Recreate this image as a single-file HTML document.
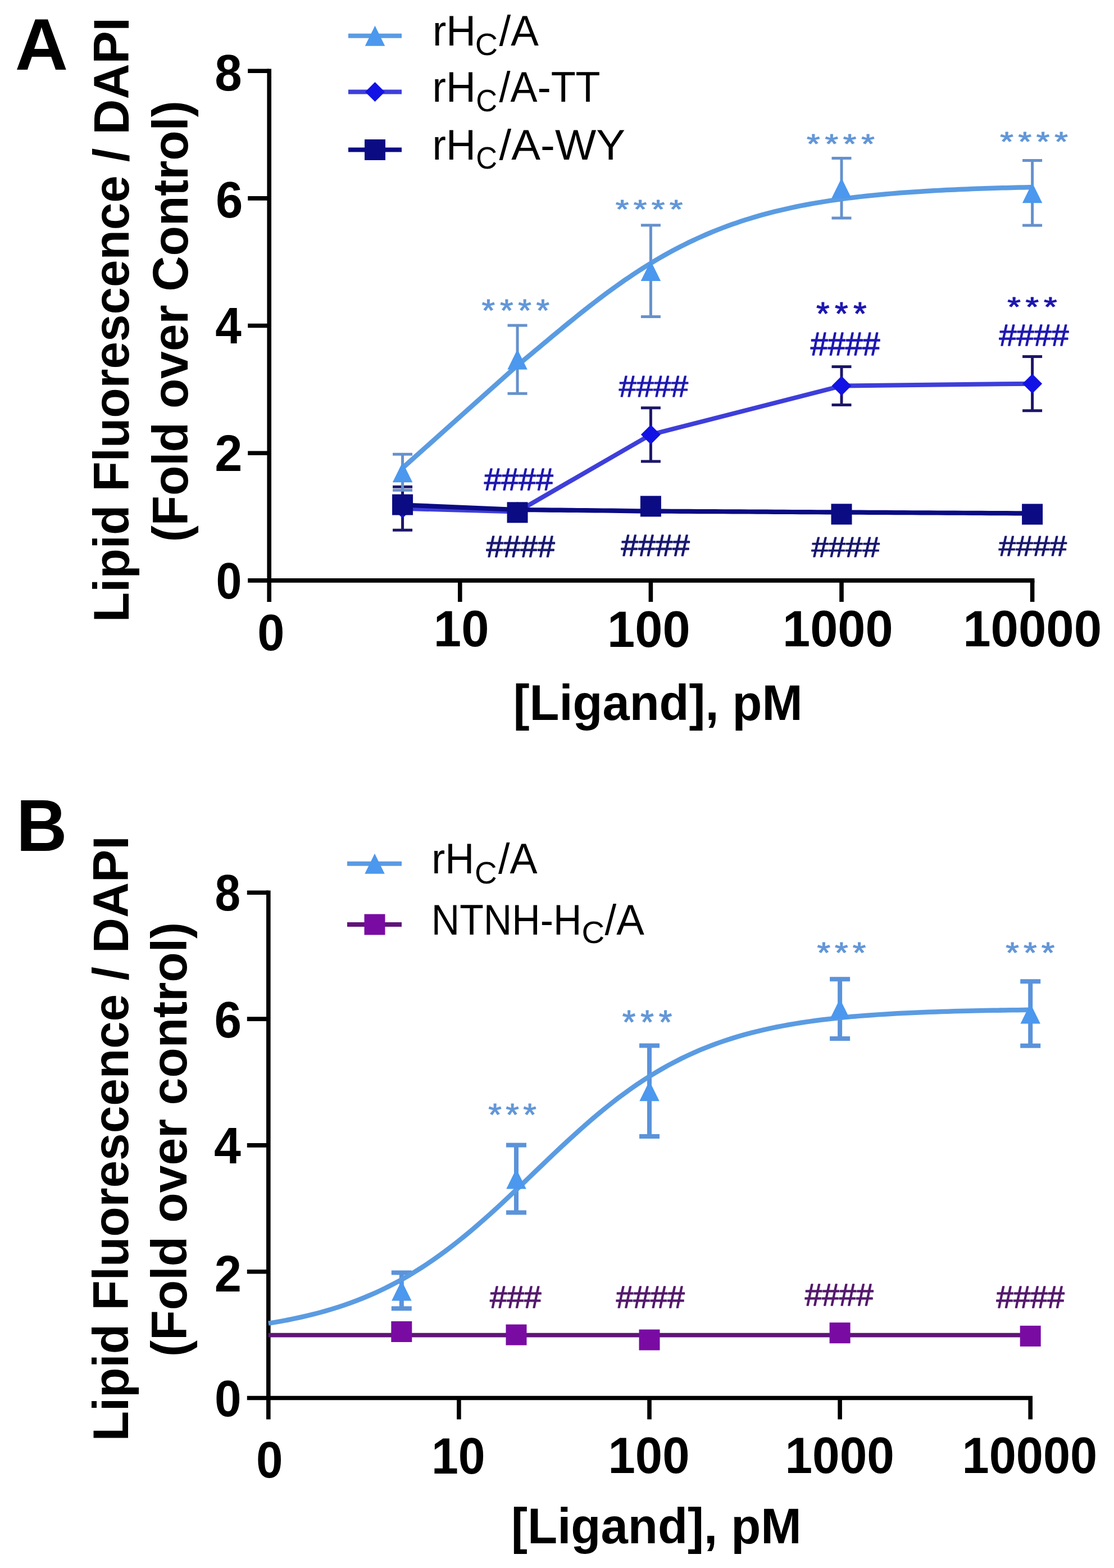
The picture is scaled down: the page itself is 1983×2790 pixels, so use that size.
<!DOCTYPE html><html><head><meta charset="utf-8"><title>Lipid Fluorescence</title><style>html,body{margin:0;padding:0;background:#fff;}svg{display:block;}text{font-family:"Liberation Sans",Arial,sans-serif;}</style></head><body>
<svg width="1983" height="2790" viewBox="0 0 1983 2790">
<rect width="1983" height="2790" fill="#fff"/>
<line x1="479.2" y1="122.38" x2="479.2" y2="1070.9" stroke="#000" stroke-width="7.6" stroke-linecap="butt"/>
<line x1="441.2" y1="1032.9" x2="1841.4" y2="1032.9" stroke="#000" stroke-width="7.6" stroke-linecap="butt"/>
<line x1="441.2" y1="806.22" x2="479.2" y2="806.22" stroke="#000" stroke-width="7.6" stroke-linecap="butt"/>
<line x1="441.2" y1="579.54" x2="479.2" y2="579.54" stroke="#000" stroke-width="7.6" stroke-linecap="butt"/>
<line x1="441.2" y1="352.86" x2="479.2" y2="352.86" stroke="#000" stroke-width="7.6" stroke-linecap="butt"/>
<line x1="441.2" y1="126.18" x2="479.2" y2="126.18" stroke="#000" stroke-width="7.6" stroke-linecap="butt"/>
<line x1="818.8" y1="1032.9" x2="818.8" y2="1070.9" stroke="#000" stroke-width="7.6" stroke-linecap="butt"/>
<line x1="1158.4" y1="1032.9" x2="1158.4" y2="1070.9" stroke="#000" stroke-width="7.6" stroke-linecap="butt"/>
<line x1="1498" y1="1032.9" x2="1498" y2="1070.9" stroke="#000" stroke-width="7.6" stroke-linecap="butt"/>
<line x1="1837.6" y1="1032.9" x2="1837.6" y2="1070.9" stroke="#000" stroke-width="7.6" stroke-linecap="butt"/>
<text transform="translate(382.24 160.5) scale(0.9678 1)" font-size="90" font-weight="bold" fill="#000">8</text>
<text transform="translate(384.02 387.2) scale(0.9654 1)" font-size="90" font-weight="bold" fill="#000">6</text>
<text transform="translate(383.13 611.1) scale(0.9293 1)" font-size="90" font-weight="bold" fill="#000">4</text>
<text transform="translate(382.13 837.9) scale(0.9832 1)" font-size="90" font-weight="bold" fill="#000">2</text>
<text transform="translate(384.53 1065.4) scale(0.9182 1)" font-size="90" font-weight="bold" fill="#000">0</text>
<text transform="translate(458.27 1156.8) scale(0.9626 1)" font-size="90" font-weight="bold" fill="#000">0</text>
<text transform="translate(771.82 1150.3) scale(0.9852 1)" font-size="90" font-weight="bold" fill="#000">10</text>
<text transform="translate(1081.03 1150.5) scale(0.9829 1)" font-size="90" font-weight="bold" fill="#000">100</text>
<text transform="translate(1393.03 1150) scale(0.9819 1)" font-size="90" font-weight="bold" fill="#000">1000</text>
<text transform="translate(1714.21 1150) scale(0.9863 1)" font-size="90" font-weight="bold" fill="#000">10000</text>
<text transform="translate(913.73 1280.7) scale(0.9736 1)" font-size="89" font-weight="bold" fill="#000">[Ligand], pM</text>
<text transform="translate(229.4 1107.03) rotate(-90) scale(0.9799 1)" font-size="89" font-weight="bold" fill="#000">Lipid Fluorescence / DAPI</text>
<text transform="translate(333.6 964.35) rotate(-90) scale(0.9804 1)" font-size="89" font-weight="bold" fill="#000">(Fold over Control)</text>
<text transform="translate(26.74 124.4) scale(1.0055 1)" font-size="130" font-weight="bold" fill="#000">A</text>
<line x1="477.8" y1="1584.5" x2="477.8" y2="2525.5" stroke="#000" stroke-width="7.6" stroke-linecap="butt"/>
<line x1="439.8" y1="2487.5" x2="1838" y2="2487.5" stroke="#000" stroke-width="7.6" stroke-linecap="butt"/>
<line x1="439.8" y1="2262.7" x2="477.8" y2="2262.7" stroke="#000" stroke-width="7.6" stroke-linecap="butt"/>
<line x1="439.8" y1="2037.9" x2="477.8" y2="2037.9" stroke="#000" stroke-width="7.6" stroke-linecap="butt"/>
<line x1="439.8" y1="1813.1" x2="477.8" y2="1813.1" stroke="#000" stroke-width="7.6" stroke-linecap="butt"/>
<line x1="439.8" y1="1588.3" x2="477.8" y2="1588.3" stroke="#000" stroke-width="7.6" stroke-linecap="butt"/>
<line x1="816.9" y1="2487.5" x2="816.9" y2="2525.5" stroke="#000" stroke-width="7.6" stroke-linecap="butt"/>
<line x1="1156" y1="2487.5" x2="1156" y2="2525.5" stroke="#000" stroke-width="7.6" stroke-linecap="butt"/>
<line x1="1495.1" y1="2487.5" x2="1495.1" y2="2525.5" stroke="#000" stroke-width="7.6" stroke-linecap="butt"/>
<line x1="1834.2" y1="2487.5" x2="1834.2" y2="2525.5" stroke="#000" stroke-width="7.6" stroke-linecap="butt"/>
<text transform="translate(382.4 1620.4) scale(0.9093 1)" font-size="90" font-weight="bold" fill="#000">8</text>
<text transform="translate(381.5 1845.8) scale(0.9700 1)" font-size="90" font-weight="bold" fill="#000">6</text>
<text transform="translate(381 2069.8) scale(0.9563 1)" font-size="90" font-weight="bold" fill="#000">4</text>
<text transform="translate(381.7 2297.9) scale(0.9624 1)" font-size="90" font-weight="bold" fill="#000">2</text>
<text transform="translate(382.12 2519.9) scale(0.9509 1)" font-size="90" font-weight="bold" fill="#000">0</text>
<text transform="translate(456.02 2628.9) scale(0.9485 1)" font-size="90" font-weight="bold" fill="#000">0</text>
<text transform="translate(767.98 2621.5) scale(0.9565 1)" font-size="90" font-weight="bold" fill="#000">10</text>
<text transform="translate(1082.52 2620.5) scale(0.9659 1)" font-size="90" font-weight="bold" fill="#000">100</text>
<text transform="translate(1397.49 2620.5) scale(0.9714 1)" font-size="90" font-weight="bold" fill="#000">1000</text>
<text transform="translate(1712.55 2620.5) scale(0.9618 1)" font-size="90" font-weight="bold" fill="#000">10000</text>
<text transform="translate(910.12 2745.7) scale(0.9769 1)" font-size="89" font-weight="bold" fill="#000">[Ligand], pM</text>
<text transform="translate(227.5 2564.34) rotate(-90) scale(0.9810 1)" font-size="89" font-weight="bold" fill="#000">Lipid Fluorescence / DAPI</text>
<text transform="translate(332 2413.96) rotate(-90) scale(0.9837 1)" font-size="89" font-weight="bold" fill="#000">(Fold over control)</text>
<text transform="translate(29.02 1513.8) scale(0.9636 1)" font-size="130" font-weight="bold" fill="#000">B</text>
<line x1="716.57" y1="886.69" x2="716.57" y2="909.36" stroke="#0B0B84" stroke-width="5" stroke-linecap="butt"/>
<line x1="699.07" y1="886.69" x2="734.07" y2="886.69" stroke="#0B0B84" stroke-width="5" stroke-linecap="butt"/>
<line x1="699.07" y1="909.36" x2="734.07" y2="909.36" stroke="#0B0B84" stroke-width="5" stroke-linecap="butt"/>
<line x1="716.57" y1="866.29" x2="716.57" y2="943.36" stroke="#1C1668" stroke-width="5" stroke-linecap="butt"/>
<line x1="699.07" y1="866.29" x2="734.07" y2="866.29" stroke="#1C1668" stroke-width="5" stroke-linecap="butt"/>
<line x1="699.07" y1="943.36" x2="734.07" y2="943.36" stroke="#1C1668" stroke-width="5" stroke-linecap="butt"/>
<line x1="716.57" y1="808.15" x2="716.57" y2="872.3" stroke="#6691CC" stroke-width="5" stroke-linecap="butt"/>
<line x1="699.07" y1="808.15" x2="734.07" y2="808.15" stroke="#6691CC" stroke-width="5" stroke-linecap="butt"/>
<line x1="699.07" y1="872.3" x2="734.07" y2="872.3" stroke="#6691CC" stroke-width="5" stroke-linecap="butt"/>
<line x1="921.03" y1="902.79" x2="921.03" y2="920.92" stroke="#0B0B84" stroke-width="5" stroke-linecap="butt"/>
<line x1="903.53" y1="902.79" x2="938.53" y2="902.79" stroke="#0B0B84" stroke-width="5" stroke-linecap="butt"/>
<line x1="903.53" y1="920.92" x2="938.53" y2="920.92" stroke="#0B0B84" stroke-width="5" stroke-linecap="butt"/>
<line x1="921.03" y1="899.16" x2="921.03" y2="921.83" stroke="#1C1668" stroke-width="5" stroke-linecap="butt"/>
<line x1="903.53" y1="899.16" x2="938.53" y2="899.16" stroke="#1C1668" stroke-width="5" stroke-linecap="butt"/>
<line x1="903.53" y1="921.83" x2="938.53" y2="921.83" stroke="#1C1668" stroke-width="5" stroke-linecap="butt"/>
<line x1="921.03" y1="579.09" x2="921.03" y2="700.13" stroke="#6691CC" stroke-width="5" stroke-linecap="butt"/>
<line x1="903.53" y1="579.09" x2="938.53" y2="579.09" stroke="#6691CC" stroke-width="5" stroke-linecap="butt"/>
<line x1="903.53" y1="700.13" x2="938.53" y2="700.13" stroke="#6691CC" stroke-width="5" stroke-linecap="butt"/>
<line x1="1158.4" y1="894.06" x2="1158.4" y2="907.66" stroke="#0B0B84" stroke-width="5" stroke-linecap="butt"/>
<line x1="1140.9" y1="894.06" x2="1175.9" y2="894.06" stroke="#0B0B84" stroke-width="5" stroke-linecap="butt"/>
<line x1="1140.9" y1="907.66" x2="1175.9" y2="907.66" stroke="#0B0B84" stroke-width="5" stroke-linecap="butt"/>
<line x1="1158.4" y1="725.75" x2="1158.4" y2="820.95" stroke="#1C1668" stroke-width="5" stroke-linecap="butt"/>
<line x1="1140.9" y1="725.75" x2="1175.9" y2="725.75" stroke="#1C1668" stroke-width="5" stroke-linecap="butt"/>
<line x1="1140.9" y1="820.95" x2="1175.9" y2="820.95" stroke="#1C1668" stroke-width="5" stroke-linecap="butt"/>
<line x1="1158.4" y1="400.69" x2="1158.4" y2="563.45" stroke="#6691CC" stroke-width="5" stroke-linecap="butt"/>
<line x1="1140.9" y1="400.69" x2="1175.9" y2="400.69" stroke="#6691CC" stroke-width="5" stroke-linecap="butt"/>
<line x1="1140.9" y1="563.45" x2="1175.9" y2="563.45" stroke="#6691CC" stroke-width="5" stroke-linecap="butt"/>
<line x1="1498" y1="909.25" x2="1498" y2="920.58" stroke="#0B0B84" stroke-width="5" stroke-linecap="butt"/>
<line x1="1480.5" y1="909.25" x2="1515.5" y2="909.25" stroke="#0B0B84" stroke-width="5" stroke-linecap="butt"/>
<line x1="1480.5" y1="920.58" x2="1515.5" y2="920.58" stroke="#0B0B84" stroke-width="5" stroke-linecap="butt"/>
<line x1="1498" y1="652.53" x2="1498" y2="720.53" stroke="#1C1668" stroke-width="5" stroke-linecap="butt"/>
<line x1="1480.5" y1="652.53" x2="1515.5" y2="652.53" stroke="#1C1668" stroke-width="5" stroke-linecap="butt"/>
<line x1="1480.5" y1="720.53" x2="1515.5" y2="720.53" stroke="#1C1668" stroke-width="5" stroke-linecap="butt"/>
<line x1="1498" y1="281.46" x2="1498" y2="388" stroke="#6691CC" stroke-width="5" stroke-linecap="butt"/>
<line x1="1480.5" y1="281.46" x2="1515.5" y2="281.46" stroke="#6691CC" stroke-width="5" stroke-linecap="butt"/>
<line x1="1480.5" y1="388" x2="1515.5" y2="388" stroke="#6691CC" stroke-width="5" stroke-linecap="butt"/>
<line x1="1837.6" y1="909.36" x2="1837.6" y2="920.69" stroke="#0B0B84" stroke-width="5" stroke-linecap="butt"/>
<line x1="1820.1" y1="909.36" x2="1855.1" y2="909.36" stroke="#0B0B84" stroke-width="5" stroke-linecap="butt"/>
<line x1="1820.1" y1="920.69" x2="1855.1" y2="920.69" stroke="#0B0B84" stroke-width="5" stroke-linecap="butt"/>
<line x1="1837.6" y1="634.62" x2="1837.6" y2="730.74" stroke="#1C1668" stroke-width="5" stroke-linecap="butt"/>
<line x1="1820.1" y1="634.62" x2="1855.1" y2="634.62" stroke="#1C1668" stroke-width="5" stroke-linecap="butt"/>
<line x1="1820.1" y1="730.74" x2="1855.1" y2="730.74" stroke="#1C1668" stroke-width="5" stroke-linecap="butt"/>
<line x1="1837.6" y1="285.42" x2="1837.6" y2="401.03" stroke="#6691CC" stroke-width="5" stroke-linecap="butt"/>
<line x1="1820.1" y1="285.42" x2="1855.1" y2="285.42" stroke="#6691CC" stroke-width="5" stroke-linecap="butt"/>
<line x1="1820.1" y1="401.03" x2="1855.1" y2="401.03" stroke="#6691CC" stroke-width="5" stroke-linecap="butt"/>
<polyline points="716.57,904.83 921.03,910.49 1158.4,773.35 1498,686.53 1837.6,682.68" fill="none" stroke="#3E3EDA" stroke-width="8" stroke-linejoin="round"/>
<polyline points="716.57,898.5 921.02,907 936.3,907.13 951.57,907.26 966.85,907.39 982.12,907.53 997.4,907.68 1012.68,907.82 1027.95,907.98 1043.23,908.14 1058.51,908.33 1073.78,908.52 1089.06,908.72 1104.34,908.92 1119.61,909.11 1134.89,909.28 1150.16,909.43 1165.44,909.55 1180.72,909.67 1195.99,909.77 1211.27,909.86 1226.55,909.95 1241.82,910.03 1257.1,910.11 1272.38,910.19 1287.65,910.27 1302.93,910.35 1318.2,910.43 1333.48,910.52 1348.76,910.61 1364.03,910.7 1379.31,910.79 1394.59,910.88 1409.86,910.98 1425.14,911.07 1440.42,911.16 1455.69,911.25 1470.97,911.34 1486.24,911.43 1501.52,911.52 1516.8,911.61 1532.07,911.7 1547.35,911.79 1562.63,911.88 1577.9,911.97 1593.18,912.05 1608.45,912.14 1623.73,912.23 1639.01,912.32 1654.28,912.41 1669.56,912.5 1684.84,912.59 1700.11,912.68 1715.39,912.77 1730.67,912.86 1745.94,912.95 1761.22,913.04 1776.49,913.13 1791.77,913.22 1807.05,913.32 1822.32,913.41 1837.6,913.5" fill="none" stroke="#0B0B84" stroke-width="8.2" stroke-linejoin="round"/>
<polyline points="716.57,832.74 921.03,650.19 928.67,643.87 936.31,637.53 943.94,631.17 951.58,624.8 959.22,618.42 966.86,612.04 974.5,605.67 982.13,599.31 989.77,592.98 997.41,586.66 1005.05,580.38 1012.69,574.13 1020.32,567.93 1027.96,561.78 1035.6,555.68 1043.24,549.63 1050.88,543.65 1058.52,537.74 1066.15,531.9 1073.79,526.14 1081.43,520.46 1089.07,514.86 1096.71,509.35 1104.34,503.94 1111.98,498.61 1119.62,493.39 1127.26,488.26 1134.9,483.23 1142.53,478.31 1150.17,473.49 1157.81,468.77 1165.45,464.16 1173.09,459.66 1180.72,455.27 1188.36,450.99 1196,446.81 1203.64,442.74 1211.28,438.78 1218.92,434.93 1226.55,431.18 1234.19,427.54 1241.83,424 1249.47,420.57 1257.11,417.24 1264.74,414 1272.38,410.87 1280.02,407.84 1287.66,404.9 1295.3,402.06 1302.93,399.3 1310.57,396.64 1318.21,394.07 1325.85,391.58 1333.49,389.18 1341.12,386.86 1348.76,384.63 1356.4,382.46 1364.04,380.38 1371.68,378.37 1379.31,376.43 1386.95,374.57 1394.59,372.77 1402.23,371.04 1409.87,369.37 1417.51,367.76 1425.14,366.21 1432.78,364.73 1440.42,363.3 1448.06,361.92 1455.7,360.59 1463.33,359.32 1470.97,358.1 1478.61,356.92 1486.25,355.79 1493.89,354.71 1501.52,353.66 1509.16,352.66 1516.8,351.7 1524.44,350.78 1532.08,349.89 1539.71,349.04 1547.35,348.22 1554.99,347.44 1562.63,346.69 1570.27,345.97 1577.91,345.27 1585.54,344.61 1593.18,343.97 1600.82,343.36 1608.46,342.78 1616.1,342.21 1623.73,341.68 1631.37,341.16 1639.01,340.67 1646.65,340.19 1654.29,339.74 1661.92,339.3 1669.56,338.88 1677.2,338.48 1684.84,338.1 1692.48,337.73 1700.11,337.38 1707.75,337.04 1715.39,336.72 1723.03,336.41 1730.67,336.12 1738.3,335.83 1745.94,335.56 1753.58,335.3 1761.22,335.05 1768.86,334.81 1776.5,334.58 1784.13,334.36 1791.77,334.15 1799.41,333.95 1807.05,333.76 1814.69,333.58 1822.32,333.4 1829.96,333.23 1837.6,333.07" fill="none" stroke="#5A9BE2" stroke-width="8.5" stroke-linejoin="round"/>
<polygon points="716.57,887.33 734.07,904.83 716.57,922.33 699.07,904.83" fill="#1212E4"/>
<rect x="698.07" y="879.53" width="37" height="37" fill="#0B0B84"/>
<polygon points="716.57,822.22 734.32,858.22 698.82,858.22" fill="#4B98EE"/>
<polygon points="921.03,892.99 938.53,910.49 921.03,927.99 903.53,910.49" fill="#1212E4"/>
<rect x="902.53" y="893.35" width="37" height="37" fill="#0B0B84"/>
<polygon points="921.03,621.61 938.78,657.61 903.28,657.61" fill="#4B98EE"/>
<polygon points="1158.4,755.85 1175.9,773.35 1158.4,790.85 1140.9,773.35" fill="#1212E4"/>
<rect x="1139.9" y="882.36" width="37" height="37" fill="#0B0B84"/>
<polygon points="1158.4,464.07 1176.15,500.07 1140.65,500.07" fill="#4B98EE"/>
<polygon points="1498,669.03 1515.5,686.53 1498,704.03 1480.5,686.53" fill="#1212E4"/>
<rect x="1479.5" y="896.41" width="37" height="37" fill="#0B0B84"/>
<polygon points="1498,316.73 1515.75,352.73 1480.25,352.73" fill="#4B98EE"/>
<polygon points="1837.6,665.18 1855.1,682.68 1837.6,700.18 1820.1,682.68" fill="#1212E4"/>
<rect x="1819.1" y="896.53" width="37" height="37" fill="#0B0B84"/>
<polygon points="1837.6,325.23 1855.35,361.23 1819.85,361.23" fill="#4B98EE"/>
<text transform="translate(858.55 571.17) scale(1.0987 1)" x="-0.89" font-size="55.26" fill="#6397D8" stroke="#6397D8" stroke-width="1.1" stroke-linejoin="round">*</text>
<text transform="translate(890.85 571.17) scale(1.0987 1)" x="-0.89" font-size="55.26" fill="#6397D8" stroke="#6397D8" stroke-width="1.1" stroke-linejoin="round">*</text>
<text transform="translate(923.15 571.17) scale(1.0987 1)" x="-0.89" font-size="55.26" fill="#6397D8" stroke="#6397D8" stroke-width="1.1" stroke-linejoin="round">*</text>
<text transform="translate(955.45 571.17) scale(1.0987 1)" x="-0.89" font-size="55.26" fill="#6397D8" stroke="#6397D8" stroke-width="1.1" stroke-linejoin="round">*</text>
<text transform="translate(1096.75 388.09) scale(1.3076 1)" x="-0.75" font-size="46.43" fill="#6397D8" stroke="#6397D8" stroke-width="1.1" stroke-linejoin="round">*</text>
<text transform="translate(1128.75 388.09) scale(1.3076 1)" x="-0.75" font-size="46.43" fill="#6397D8" stroke="#6397D8" stroke-width="1.1" stroke-linejoin="round">*</text>
<text transform="translate(1160.75 388.09) scale(1.3076 1)" x="-0.75" font-size="46.43" fill="#6397D8" stroke="#6397D8" stroke-width="1.1" stroke-linejoin="round">*</text>
<text transform="translate(1192.75 388.09) scale(1.3076 1)" x="-0.75" font-size="46.43" fill="#6397D8" stroke="#6397D8" stroke-width="1.1" stroke-linejoin="round">*</text>
<text transform="translate(1436.95 271.66) scale(1.2392 1)" x="-0.79" font-size="48.99" fill="#6397D8" stroke="#6397D8" stroke-width="1.1" stroke-linejoin="round">*</text>
<text transform="translate(1469.35 271.66) scale(1.2392 1)" x="-0.79" font-size="48.99" fill="#6397D8" stroke="#6397D8" stroke-width="1.1" stroke-linejoin="round">*</text>
<text transform="translate(1501.75 271.66) scale(1.2392 1)" x="-0.79" font-size="48.99" fill="#6397D8" stroke="#6397D8" stroke-width="1.1" stroke-linejoin="round">*</text>
<text transform="translate(1534.15 271.66) scale(1.2392 1)" x="-0.79" font-size="48.99" fill="#6397D8" stroke="#6397D8" stroke-width="1.1" stroke-linejoin="round">*</text>
<text transform="translate(1781.15 267.68) scale(1.2763 1)" x="-0.77" font-size="47.57" fill="#6397D8" stroke="#6397D8" stroke-width="1.1" stroke-linejoin="round">*</text>
<text transform="translate(1813.48 267.68) scale(1.2763 1)" x="-0.77" font-size="47.57" fill="#6397D8" stroke="#6397D8" stroke-width="1.1" stroke-linejoin="round">*</text>
<text transform="translate(1845.82 267.68) scale(1.2763 1)" x="-0.77" font-size="47.57" fill="#6397D8" stroke="#6397D8" stroke-width="1.1" stroke-linejoin="round">*</text>
<text transform="translate(1878.15 267.68) scale(1.2763 1)" x="-0.77" font-size="47.57" fill="#6397D8" stroke="#6397D8" stroke-width="1.1" stroke-linejoin="round">*</text>
<text transform="translate(1453.95 578.14) scale(1.0604 1)" x="-0.92" font-size="57.25" fill="#1D17B0" stroke="#1D17B0" stroke-width="1.1" stroke-linejoin="round">*</text>
<text transform="translate(1487 578.14) scale(1.0604 1)" x="-0.92" font-size="57.25" fill="#1D17B0" stroke="#1D17B0" stroke-width="1.1" stroke-linejoin="round">*</text>
<text transform="translate(1520.05 578.14) scale(1.0604 1)" x="-0.92" font-size="57.25" fill="#1D17B0" stroke="#1D17B0" stroke-width="1.1" stroke-linejoin="round">*</text>
<text transform="translate(1794.15 561.66) scale(1.2392 1)" x="-0.79" font-size="48.99" fill="#1D17B0" stroke="#1D17B0" stroke-width="1.1" stroke-linejoin="round">*</text>
<text transform="translate(1826.5 561.66) scale(1.2392 1)" x="-0.79" font-size="48.99" fill="#1D17B0" stroke="#1D17B0" stroke-width="1.1" stroke-linejoin="round">*</text>
<text transform="translate(1858.85 561.66) scale(1.2392 1)" x="-0.79" font-size="48.99" fill="#1D17B0" stroke="#1D17B0" stroke-width="1.1" stroke-linejoin="round">*</text>
<text transform="translate(861.81 872.05) scale(0.9859 1)" font-size="56.13" font-weight="normal" fill="#1D17B0" stroke="#1D17B0" stroke-width="1.32" stroke-linejoin="round">####</text>
<text transform="translate(1101.81 706.45) scale(1.0369 1)" font-size="53.5" font-weight="normal" fill="#1D17B0" stroke="#1D17B0" stroke-width="1.25" stroke-linejoin="round">####</text>
<text transform="translate(1442.81 632.35) scale(0.9805 1)" font-size="56.72" font-weight="normal" fill="#1D17B0" stroke="#1D17B0" stroke-width="1.33" stroke-linejoin="round">####</text>
<text transform="translate(1778.61 614.65) scale(1.0335 1)" font-size="53.94" font-weight="normal" fill="#1D17B0" stroke="#1D17B0" stroke-width="1.26" stroke-linejoin="round">####</text>
<text transform="translate(865.51 990.95) scale(1.0212 1)" font-size="53.79" font-weight="normal" fill="#17176F" stroke="#17176F" stroke-width="1.27" stroke-linejoin="round">####</text>
<text transform="translate(1105.61 989.05) scale(1.0184 1)" font-size="53.94" font-weight="normal" fill="#17176F" stroke="#17176F" stroke-width="1.28" stroke-linejoin="round">####</text>
<text transform="translate(1444.41 990.85) scale(1.1013 1)" font-size="49.56" font-weight="normal" fill="#17176F" stroke="#17176F" stroke-width="1.18" stroke-linejoin="round">####</text>
<text transform="translate(1777.81 988.65) scale(1.0759 1)" font-size="50.72" font-weight="normal" fill="#17176F" stroke="#17176F" stroke-width="1.21" stroke-linejoin="round">####</text>
<line x1="620" y1="63.7" x2="715" y2="63.7" stroke="#5A9BE2" stroke-width="8" stroke-linecap="butt"/>
<polygon points="667.5,45.7 685.25,81.7 649.75,81.7" fill="#4B98EE"/>
<text transform="translate(769.95 81.3) scale(0.9601 1)" font-size="76" font-weight="normal" fill="#000">rH</text>
<text transform="translate(845.86 97.8) scale(1.0163 1)" font-size="55" font-weight="normal" fill="#000">C</text>
<text transform="translate(888.6 81.3) scale(0.9797 1)" font-size="76" font-weight="normal" fill="#000">/A</text>
<line x1="620" y1="163.6" x2="715" y2="163.6" stroke="#3E3EDA" stroke-width="8" stroke-linecap="butt"/>
<polygon points="667.5,146.1 685,163.6 667.5,181.1 650,163.6" fill="#1212E4"/>
<text transform="translate(769.53 180.8) scale(0.9645 1)" font-size="76" font-weight="normal" fill="#000">rH</text>
<text transform="translate(847.14 198.2) scale(0.9532 1)" font-size="55" font-weight="normal" fill="#000">C</text>
<text transform="translate(888.6 180.8) scale(0.9478 1)" font-size="76" font-weight="normal" fill="#000">/A-TT</text>
<line x1="620" y1="266.5" x2="715" y2="266.5" stroke="#0B0B84" stroke-width="8" stroke-linecap="butt"/>
<rect x="649" y="248" width="37" height="37" fill="#0B0B84"/>
<text transform="translate(769.53 283.8) scale(0.9645 1)" font-size="76" font-weight="normal" fill="#000">rH</text>
<text transform="translate(847.14 300.2) scale(0.9532 1)" font-size="55" font-weight="normal" fill="#000">C</text>
<text transform="translate(888.6 283.8) scale(1.0226 1)" font-size="76" font-weight="normal" fill="#000">/A-WY</text>
<line x1="714.82" y1="2264.61" x2="714.82" y2="2328.23" stroke="#5B93DA" stroke-width="8" stroke-linecap="butt"/>
<line x1="696.82" y1="2264.61" x2="732.82" y2="2264.61" stroke="#5B93DA" stroke-width="8" stroke-linecap="butt"/>
<line x1="696.82" y1="2328.23" x2="732.82" y2="2328.23" stroke="#5B93DA" stroke-width="8" stroke-linecap="butt"/>
<line x1="918.98" y1="2037.45" x2="918.98" y2="2157.49" stroke="#5B93DA" stroke-width="8" stroke-linecap="butt"/>
<line x1="900.98" y1="2037.45" x2="936.98" y2="2037.45" stroke="#5B93DA" stroke-width="8" stroke-linecap="butt"/>
<line x1="900.98" y1="2157.49" x2="936.98" y2="2157.49" stroke="#5B93DA" stroke-width="8" stroke-linecap="butt"/>
<line x1="1156" y1="1860.53" x2="1156" y2="2021.94" stroke="#5B93DA" stroke-width="8" stroke-linecap="butt"/>
<line x1="1138" y1="1860.53" x2="1174" y2="1860.53" stroke="#5B93DA" stroke-width="8" stroke-linecap="butt"/>
<line x1="1138" y1="2021.94" x2="1174" y2="2021.94" stroke="#5B93DA" stroke-width="8" stroke-linecap="butt"/>
<line x1="1495.1" y1="1742.29" x2="1495.1" y2="1847.94" stroke="#5B93DA" stroke-width="8" stroke-linecap="butt"/>
<line x1="1477.1" y1="1742.29" x2="1513.1" y2="1742.29" stroke="#5B93DA" stroke-width="8" stroke-linecap="butt"/>
<line x1="1477.1" y1="1847.94" x2="1513.1" y2="1847.94" stroke="#5B93DA" stroke-width="8" stroke-linecap="butt"/>
<line x1="1834.2" y1="1746.22" x2="1834.2" y2="1860.87" stroke="#5B93DA" stroke-width="8" stroke-linecap="butt"/>
<line x1="1816.2" y1="1746.22" x2="1852.2" y2="1746.22" stroke="#5B93DA" stroke-width="8" stroke-linecap="butt"/>
<line x1="1816.2" y1="1860.87" x2="1852.2" y2="1860.87" stroke="#5B93DA" stroke-width="8" stroke-linecap="butt"/>
<line x1="477.8" y1="2375.66" x2="1834.2" y2="2375.66" stroke="#5F1479" stroke-width="7.8" stroke-linecap="butt"/>
<polyline points="477.8,2354.68 489.1,2352.82 500.41,2350.83 511.71,2348.71 523.01,2346.44 534.32,2344.02 545.62,2341.43 556.92,2338.68 568.23,2335.74 579.53,2332.61 590.83,2329.28 602.14,2325.73 613.44,2321.97 624.74,2317.98 636.05,2313.75 647.35,2309.27 658.65,2304.53 669.96,2299.52 681.26,2294.23 692.56,2288.67 703.87,2282.8 715.17,2276.65 726.47,2270.19 737.78,2263.42 749.08,2256.35 760.38,2248.96 771.69,2241.27 782.99,2233.27 794.29,2224.97 805.6,2216.38 816.9,2207.5 828.2,2198.35 839.51,2188.93 850.81,2179.28 862.11,2169.39 873.42,2159.3 884.72,2149.02 896.02,2138.58 907.33,2128.01 918.63,2117.32 929.93,2106.56 941.24,2095.74 952.54,2084.9 963.84,2074.07 975.15,2063.27 986.45,2052.54 997.75,2041.91 1009.06,2031.4 1020.36,2021.03 1031.66,2010.84 1042.97,2000.85 1054.27,1991.07 1065.57,1981.53 1076.88,1972.24 1088.18,1963.22 1099.48,1954.48 1110.79,1946.03 1122.09,1937.88 1133.39,1930.03 1144.7,1922.48 1156,1915.25 1167.3,1908.32 1178.61,1901.71 1189.91,1895.39 1201.21,1889.38 1212.52,1883.66 1223.82,1878.23 1235.12,1873.08 1246.43,1868.21 1257.73,1863.59 1269.03,1859.23 1280.34,1855.12 1291.64,1851.24 1302.94,1847.59 1314.25,1844.15 1325.55,1840.92 1336.85,1837.88 1348.16,1835.03 1359.46,1832.36 1370.76,1829.86 1382.07,1827.51 1393.37,1825.31 1404.67,1823.25 1415.98,1821.33 1427.28,1819.53 1438.58,1817.86 1449.89,1816.29 1461.19,1814.82 1472.49,1813.46 1483.8,1812.18 1495.1,1810.99 1506.4,1809.88 1517.71,1808.85 1529.01,1807.89 1540.31,1806.99 1551.62,1806.16 1562.92,1805.38 1574.22,1804.66 1585.53,1803.98 1596.83,1803.36 1608.13,1802.77 1619.44,1802.23 1630.74,1801.72 1642.04,1801.25 1653.35,1800.82 1664.65,1800.41 1675.95,1800.03 1687.26,1799.68 1698.56,1799.36 1709.86,1799.05 1721.17,1798.77 1732.47,1798.51 1743.77,1798.27 1755.08,1798.04 1766.38,1797.83 1777.68,1797.63 1788.99,1797.45 1800.29,1797.28 1811.59,1797.13 1822.9,1796.98 1834.2,1796.85" fill="none" stroke="#5A9BE2" stroke-width="8.5" stroke-linejoin="round"/>
<rect x="696.32" y="2350.98" width="37" height="37" fill="#790BA3"/>
<polygon points="714.82,2278.42 732.57,2314.42 697.07,2314.42" fill="#4B98EE"/>
<rect x="900.48" y="2356.6" width="37" height="37" fill="#790BA3"/>
<polygon points="918.98,2079.47 936.73,2115.47 901.23,2115.47" fill="#4B98EE"/>
<rect x="1137.5" y="2365.59" width="37" height="37" fill="#790BA3"/>
<polygon points="1156,1923.24 1173.75,1959.24 1138.25,1959.24" fill="#4B98EE"/>
<rect x="1476.6" y="2353.23" width="37" height="37" fill="#790BA3"/>
<polygon points="1495.1,1777.12 1512.85,1813.12 1477.35,1813.12" fill="#4B98EE"/>
<rect x="1815.7" y="2358.85" width="37" height="37" fill="#790BA3"/>
<polygon points="1834.2,1785.55 1851.95,1821.55 1816.45,1821.55" fill="#4B98EE"/>
<text transform="translate(870.15 2001.55) scale(1.0765 1)" x="-0.91" font-size="56.4" fill="#6397D8" stroke="#6397D8" stroke-width="1.1" stroke-linejoin="round">*</text>
<text transform="translate(901.15 2001.55) scale(1.0765 1)" x="-0.91" font-size="56.4" fill="#6397D8" stroke="#6397D8" stroke-width="1.1" stroke-linejoin="round">*</text>
<text transform="translate(932.15 2001.55) scale(1.0765 1)" x="-0.91" font-size="56.4" fill="#6397D8" stroke="#6397D8" stroke-width="1.1" stroke-linejoin="round">*</text>
<text transform="translate(1108.65 1839.22) scale(1.0347 1)" x="-0.95" font-size="58.68" fill="#6397D8" stroke="#6397D8" stroke-width="1.1" stroke-linejoin="round">*</text>
<text transform="translate(1141.15 1839.22) scale(1.0347 1)" x="-0.95" font-size="58.68" fill="#6397D8" stroke="#6397D8" stroke-width="1.1" stroke-linejoin="round">*</text>
<text transform="translate(1173.65 1839.22) scale(1.0347 1)" x="-0.95" font-size="58.68" fill="#6397D8" stroke="#6397D8" stroke-width="1.1" stroke-linejoin="round">*</text>
<text transform="translate(1455.45 1712.82) scale(1.1711 1)" x="-0.84" font-size="51.84" fill="#6397D8" stroke="#6397D8" stroke-width="1.1" stroke-linejoin="round">*</text>
<text transform="translate(1487.05 1712.82) scale(1.1711 1)" x="-0.84" font-size="51.84" fill="#6397D8" stroke="#6397D8" stroke-width="1.1" stroke-linejoin="round">*</text>
<text transform="translate(1518.65 1712.82) scale(1.1711 1)" x="-0.84" font-size="51.84" fill="#6397D8" stroke="#6397D8" stroke-width="1.1" stroke-linejoin="round">*</text>
<text transform="translate(1791.15 1712.82) scale(1.1711 1)" x="-0.84" font-size="51.84" fill="#6397D8" stroke="#6397D8" stroke-width="1.1" stroke-linejoin="round">*</text>
<text transform="translate(1822.95 1712.82) scale(1.1711 1)" x="-0.84" font-size="51.84" fill="#6397D8" stroke="#6397D8" stroke-width="1.1" stroke-linejoin="round">*</text>
<text transform="translate(1854.75 1712.82) scale(1.1711 1)" x="-0.84" font-size="51.84" fill="#6397D8" stroke="#6397D8" stroke-width="1.1" stroke-linejoin="round">*</text>
<text transform="translate(871.91 2327.05) scale(0.9745 1)" font-size="56.28" font-weight="normal" fill="#54196C" stroke="#54196C" stroke-width="1.33" stroke-linejoin="round">###</text>
<text transform="translate(1096.81 2326.65) scale(0.9839 1)" font-size="55.7" font-weight="normal" fill="#54196C" stroke="#54196C" stroke-width="1.32" stroke-linejoin="round">####</text>
<text transform="translate(1432.81 2322.65) scale(0.9753 1)" font-size="56.28" font-weight="normal" fill="#54196C" stroke="#54196C" stroke-width="1.33" stroke-linejoin="round">####</text>
<text transform="translate(1773.61 2326.65) scale(0.9791 1)" font-size="55.7" font-weight="normal" fill="#54196C" stroke="#54196C" stroke-width="1.33" stroke-linejoin="round">####</text>
<line x1="618" y1="1536.8" x2="715" y2="1536.8" stroke="#5A9BE2" stroke-width="8" stroke-linecap="butt"/>
<polygon points="667,1518.8 684.75,1554.8 649.25,1554.8" fill="#4B98EE"/>
<text transform="translate(768.22 1554.3) scale(0.9471 1)" font-size="76" font-weight="normal" fill="#000">rH</text>
<text transform="translate(845.11 1572.3) scale(0.9991 1)" font-size="55" font-weight="normal" fill="#000">C</text>
<text transform="translate(887.1 1554.3) scale(0.9685 1)" font-size="76" font-weight="normal" fill="#000">/A</text>
<line x1="618" y1="1645" x2="715" y2="1645" stroke="#5F1479" stroke-width="8" stroke-linecap="butt"/>
<rect x="648.5" y="1626.5" width="37" height="37" fill="#790BA3"/>
<text transform="translate(767.77 1662.7) scale(0.9188 1)" font-size="76" font-weight="normal" fill="#000">NTNH-H</text>
<text transform="translate(1035.44 1678.2) scale(1.0249 1)" font-size="55" font-weight="normal" fill="#000">C</text>
<text transform="translate(1076.5 1662.7) scale(0.9797 1)" font-size="76" font-weight="normal" fill="#000">/A</text>
</svg></body></html>
